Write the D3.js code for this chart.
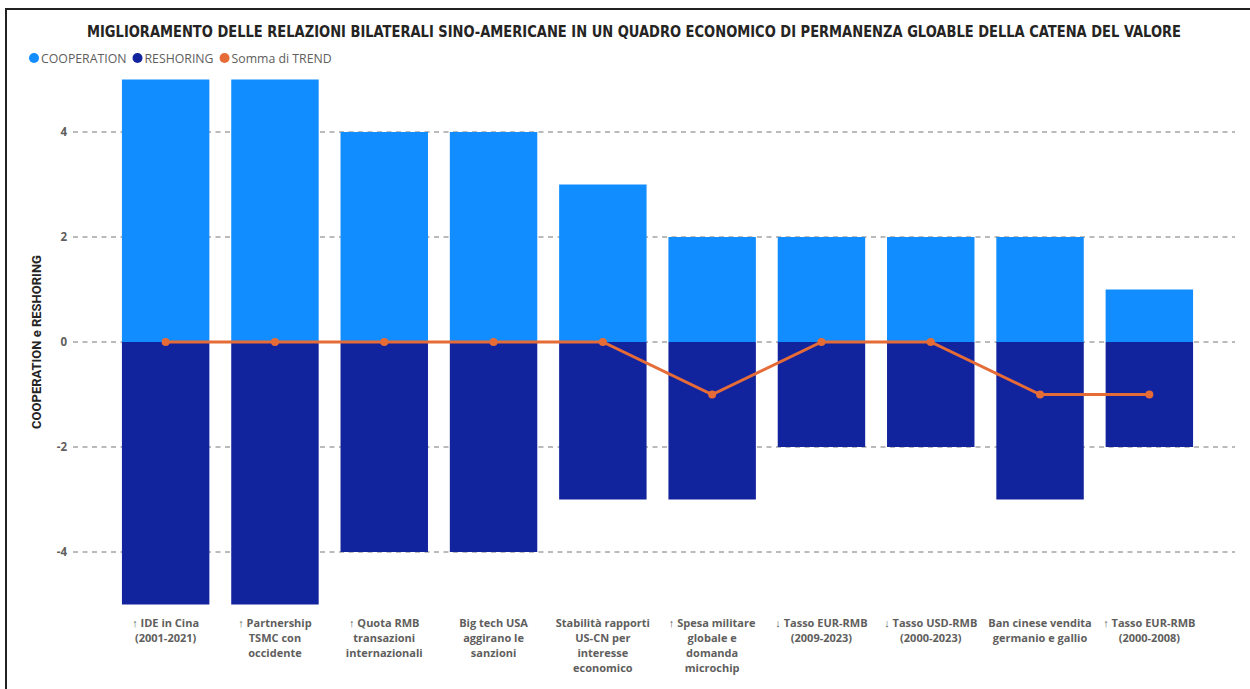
<!DOCTYPE html>
<html><head><meta charset="utf-8">
<script src="https://cdn.jsdelivr.net/npm/d3@7"></script>
<style>html,body{margin:0;padding:0;background:#fff;overflow:hidden}</style>
</head><body>
<svg id="chart" width="1250" height="689"></svg>
<script>
const categories = [
  ["↑ IDE in Cina","(2001-2021)"],
  ["↑ Partnership","TSMC con","occidente"],
  ["↑ Quota RMB","transazioni","internazionali"],
  ["Big tech USA","aggirano le","sanzioni"],
  ["Stabilità rapporti","US-CN per","interesse","economico"],
  ["↑ Spesa militare","globale e","domanda","microchip"],
  ["↓ Tasso EUR-RMB","(2009-2023)"],
  ["↓ Tasso USD-RMB","(2000-2023)"],
  ["Ban cinese vendita","germanio e gallio"],
  ["↑ Tasso EUR-RMB","(2000-2008)"]
];
const cooperation = [5,5,4,4,3,2,2,2,2,1];
const reshoring = [-5,-5,-4,-4,-3,-3,-2,-2,-3,-2];
const trend = [0,0,0,0,0,-1,0,0,-1,-1];
const yTicks = [-4,-2,0,2,4];
const title = "MIGLIORAMENTO DELLE RELAZIONI BILATERALI SINO-AMERICANE IN UN QUADRO ECONOMICO DI PERMANENZA GLOABLE DELLA CATENA DEL VALORE";
const legendItems = [["COOPERATION","#118DFF"],["RESHORING","#12239E"],["Somma di TREND","#E66C37"]];

const svg = d3.select("#chart");
const font = "'Open Sans', 'Noto Sans', sans-serif";

// frame
svg.append("rect").attr("x",6).attr("y",9).attr("width",1260).attr("height",700)
  .attr("fill","none").attr("stroke","#222").attr("stroke-width",2);

// title
svg.append("text").attr("x",634).attr("y",37).attr("text-anchor","middle")
  .attr("font-family","'DejaVu Sans Condensed','Roboto',sans-serif").attr("font-weight","bold")
  .attr("font-size",15).attr("fill","#252423")
  .attr("textLength",1094).attr("lengthAdjust","spacingAndGlyphs")
  .text(title);

// legend
let lx = 34;
legendItems.forEach(([name,color])=>{
  svg.append("circle").attr("cx",lx).attr("cy",58).attr("r",5).attr("fill",color);
  const t = svg.append("text").attr("x",lx+7).attr("y",62.5).attr("font-family",font)
    .attr("font-size",12.3).attr("fill","#605E5C").text(name);
  lx += t.node().getComputedTextLength() + 7 + 11;
});

const x = d3.scaleBand().domain(d3.range(categories.length)).range([111,1204])
  .paddingInner(0.2).paddingOuter(0.1);
const y = d3.scaleLinear().domain([-5,5]).range([604.5,79.5]);

// gridlines
svg.append("g").selectAll("line").data(yTicks).join("line")
  .attr("x1",73).attr("x2",1235).attr("y1",d=>y(d)).attr("y2",d=>y(d))
  .attr("stroke","#777").attr("stroke-width",1).attr("stroke-dasharray","5,4.5");

// y axis labels
const yAxis = d3.axisLeft(y).tickValues(yTicks).tickSize(0).tickPadding(0).tickFormat(d=>String(d));
const ya = svg.append("g").attr("transform","translate(67,0)").call(yAxis);
ya.select(".domain").remove();
ya.selectAll("text").attr("font-family",font).attr("font-size",11.5).attr("font-weight","bold")
  .attr("fill","#605E5C");

// y title
svg.append("text").attr("transform","translate(41,342) rotate(-90)").attr("text-anchor","middle")
  .attr("font-family","'Liberation Sans Narrow','Roboto',sans-serif").attr("font-weight","bold")
  .attr("font-size",13).attr("fill","#252423").text("COOPERATION e RESHORING");

// bars
svg.append("g").selectAll("rect").data(cooperation).join("rect")
  .attr("x",(d,i)=>x(i)).attr("width",x.bandwidth())
  .attr("y",d=>y(d)).attr("height",d=>y(0)-y(d)).attr("fill","#118DFF");
svg.append("g").selectAll("rect").data(reshoring).join("rect")
  .attr("x",(d,i)=>x(i)).attr("width",x.bandwidth())
  .attr("y",y(0)).attr("height",d=>y(d)-y(0)).attr("fill","#12239E");

// trend line
const cx = i => x(i)+x.bandwidth()/2;
svg.append("path").datum(trend)
  .attr("d",d3.line().x((d,i)=>cx(i)).y(d=>y(d)))
  .attr("fill","none").attr("stroke","#E66C37").attr("stroke-width",3);
svg.append("g").selectAll("circle").data(trend).join("circle")
  .attr("cx",(d,i)=>cx(i)).attr("cy",d=>y(d)).attr("r",4).attr("fill","#E66C37");

// x labels
const xl = svg.append("g");
categories.forEach((lines,i)=>{
  const t = xl.append("text").attr("x",cx(i)).attr("y",627).attr("text-anchor","middle")
    .attr("font-family",font).attr("font-size",11).attr("font-weight","bold").attr("fill","#605E5C");
  lines.forEach((l,j)=>t.append("tspan").attr("x",cx(i)).attr("dy",j===0?0:15).text(l));
});
</script>
</body></html>
